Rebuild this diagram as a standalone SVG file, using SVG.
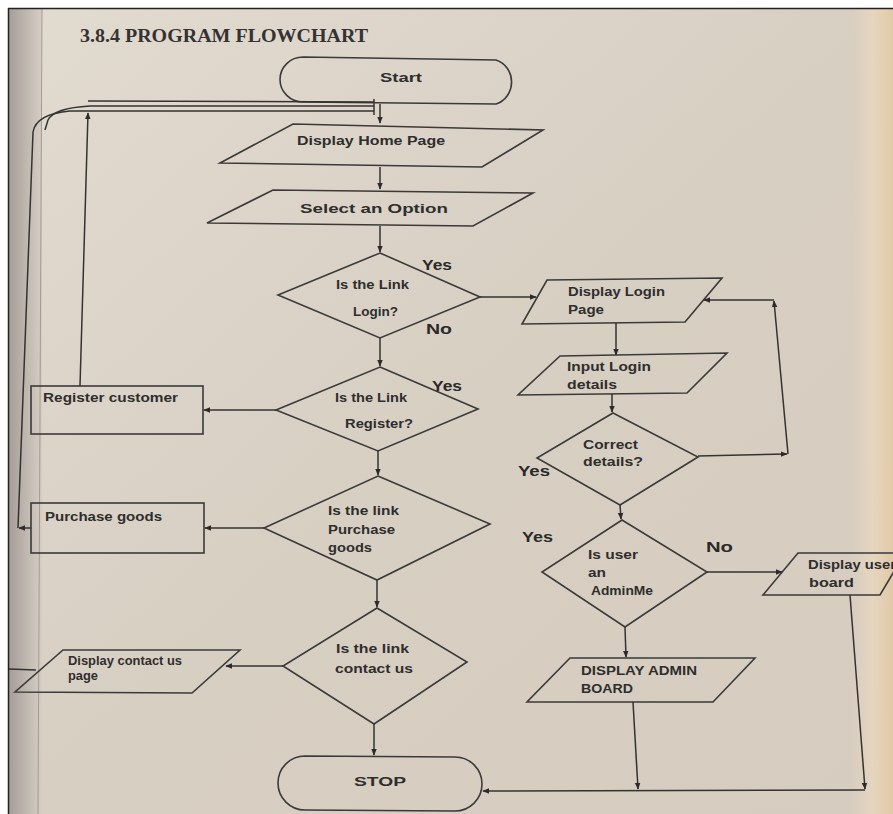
<svg xmlns="http://www.w3.org/2000/svg" width="893" height="814" viewBox="0 0 893 814">
<defs>
<linearGradient id="paper" x1="0" y1="0" x2="1" y2="1">
<stop offset="0" stop-color="#e2dbd0"/>
<stop offset="0.5" stop-color="#d8cfc3"/>
<stop offset="1" stop-color="#d6ccbf"/>
</linearGradient>
<linearGradient id="leftEdge" x1="0" y1="0" x2="1" y2="0">
<stop offset="0" stop-color="#a39d98"/>
<stop offset="0.6" stop-color="#c2bbb2"/>
<stop offset="1" stop-color="#d6cec3"/>
</linearGradient>
<linearGradient id="rightEdge" x1="0" y1="0" x2="1" y2="0">
<stop offset="0" stop-color="#d8cdbf"/>
<stop offset="0.5" stop-color="#ecd9bf"/>
<stop offset="1" stop-color="#e6c79d"/>
</linearGradient>
<marker id="ah" viewBox="0 0 10 10" refX="9" refY="5" markerWidth="7" markerHeight="7" orient="auto-start-reverse" markerUnits="userSpaceOnUse">
<path d="M0,1 L10,5 L0,9 Z" fill="#2b2b2b"/>
</marker>
<style>
.shape{fill:none;stroke:#3a3a3a;stroke-width:1.6}
.conn{fill:none;stroke:#333;stroke-width:1.5}
.t{font-family:"Liberation Sans",Arial,sans-serif;font-weight:bold;fill:#2e2e2e;font-size:12.5px}
.lbl{font-family:"Liberation Sans",Arial,sans-serif;font-weight:bold;fill:#2a2a2a;font-size:15px}
.title{font-family:"Liberation Serif","Times New Roman",serif;font-weight:bold;fill:#333;font-size:18px}
</style>
</defs>
<rect x="0" y="0" width="893" height="814" fill="#ffffff"/>
<rect x="8" y="8" width="885" height="806" fill="url(#paper)"/>
<rect x="8" y="8" width="34" height="806" fill="url(#leftEdge)"/>
<line x1="42" y1="8" x2="38" y2="814" stroke="#a29c96" stroke-width="1"/>
<rect x="852" y="8" width="41" height="806" fill="url(#rightEdge)" opacity="0.7"/>
<line x1="8" y1="8.5" x2="893" y2="8.5" stroke="#222" stroke-width="1.5"/>
<line x1="8.5" y1="8" x2="8.5" y2="814" stroke="#222" stroke-width="1.5"/>

<text class="title" x="80" y="42" textLength="288" lengthAdjust="spacingAndGlyphs">3.8.4 PROGRAM FLOWCHART</text>

<g id="start">
<path class="shape" d="M303,57 L496,60 A22,23 0 0 1 496,104 L303,102 A23,22.5 0 0 1 303,57 Z"/>
<text class="t" x="380" y="82" font-size="13" textLength="42" lengthAdjust="spacingAndGlyphs">Start</text>
</g>

<g id="home">
<polygon class="shape" points="293,124 543,130 482,167 220,163"/>
<text class="t" x="297" y="145" textLength="148" lengthAdjust="spacingAndGlyphs">Display Home Page</text>
</g>

<g id="select">
<polygon class="shape" points="273,190 533,193 473,226 207,223"/>
<text class="t" x="300" y="213" font-size="15" textLength="148" lengthAdjust="spacingAndGlyphs">Select an Option</text>
</g>

<g id="isLogin">
<polygon class="shape" points="380,253 480,297 380,338 278,295"/>
<text class="t" x="336" y="289" font-size="11" textLength="73" lengthAdjust="spacingAndGlyphs">Is the Link</text>
<text class="t" x="353" y="316" font-size="11" textLength="45" lengthAdjust="spacingAndGlyphs">Login?</text>
</g>

<g id="isRegister">
<polygon class="shape" points="380,367 478,409 378,451 276,410"/>
<text class="t" x="335" y="402" font-size="11.5" textLength="72" lengthAdjust="spacingAndGlyphs">Is the Link</text>
<text class="t" x="345" y="428" font-size="11.5" textLength="68" lengthAdjust="spacingAndGlyphs">Register?</text>
</g>

<g id="register">
<rect class="shape" x="31" y="386" width="172" height="48"/>
<text class="t" x="43" y="402" textLength="135" lengthAdjust="spacingAndGlyphs">Register customer</text>
</g>

<g id="isPurchase">
<polygon class="shape" points="378,476 490,524 377,580 264,528"/>
<text class="t" x="328" y="515" textLength="71" lengthAdjust="spacingAndGlyphs">Is the link</text>
<text class="t" x="328" y="534" textLength="67" lengthAdjust="spacingAndGlyphs">Purchase</text>
<text class="t" x="328" y="552" textLength="44" lengthAdjust="spacingAndGlyphs">goods</text>
</g>

<g id="purchase">
<rect class="shape" x="31" y="503" width="173" height="50"/>
<text class="t" x="45" y="521" textLength="117" lengthAdjust="spacingAndGlyphs">Purchase goods</text>
</g>

<g id="isContact">
<polygon class="shape" points="377,608 467,662 374,724 283,666"/>
<text class="t" x="336" y="653" font-size="13" textLength="73" lengthAdjust="spacingAndGlyphs">Is the link</text>
<text class="t" x="335" y="673" font-size="13" textLength="78" lengthAdjust="spacingAndGlyphs">contact us</text>
</g>

<g id="contact">
<polygon class="shape" points="63,650 240,650 192,693 15,692"/>
<text class="t" x="68" y="665" font-size="10" textLength="114" lengthAdjust="spacingAndGlyphs">Display contact us</text>
<text class="t" x="68" y="680" font-size="10" textLength="30" lengthAdjust="spacingAndGlyphs">page</text>
</g>

<g id="stop">
<path class="shape" d="M305,756 L455,757 A27,27 0 0 1 455,811 L305,810 A27,27 0 0 1 305,756 Z"/>
<text class="t" x="354" y="786" font-size="16" textLength="52" lengthAdjust="spacingAndGlyphs">STOP</text>
</g>

<g id="loginPage">
<polygon class="shape" points="547,280 722,278 685,322 522,324"/>
<text class="t" x="568" y="296" textLength="97" lengthAdjust="spacingAndGlyphs">Display Login</text>
<text class="t" x="568" y="314" textLength="36" lengthAdjust="spacingAndGlyphs">Page</text>
</g>

<g id="inputLogin">
<polygon class="shape" points="560,356 727,353 687,393 518,395"/>
<text class="t" x="567" y="371" textLength="84" lengthAdjust="spacingAndGlyphs">Input Login</text>
<text class="t" x="567" y="389" textLength="50" lengthAdjust="spacingAndGlyphs">details</text>
</g>

<g id="correct">
<polygon class="shape" points="613,413 698,457 620,505 537,458"/>
<text class="t" x="583" y="449" textLength="55" lengthAdjust="spacingAndGlyphs">Correct</text>
<text class="t" x="583" y="466" textLength="60" lengthAdjust="spacingAndGlyphs">details?</text>
</g>

<g id="isAdmin">
<polygon class="shape" points="622,520 707,572 625,627 542,572"/>
<text class="t" x="588" y="559" textLength="50" lengthAdjust="spacingAndGlyphs">Is user</text>
<text class="t" x="588" y="577" textLength="18" lengthAdjust="spacingAndGlyphs">an</text>
<text class="t" x="591" y="595" font-size="10" textLength="62" lengthAdjust="spacingAndGlyphs">AdminMe</text>
</g>

<g id="userBoard">
<polygon class="shape" points="798,553 905,553 880,595 763,595"/>
<text class="t" x="808" y="569" font-size="11.5" textLength="88" lengthAdjust="spacingAndGlyphs">Display user</text>
<text class="t" x="809" y="587" font-size="11.5" textLength="45" lengthAdjust="spacingAndGlyphs">board</text>
</g>

<g id="adminBoard">
<polygon class="shape" points="570,658 755,658 713,702 527,702"/>
<text class="t" x="581" y="675" textLength="116" lengthAdjust="spacingAndGlyphs">DISPLAY ADMIN</text>
<text class="t" x="581" y="693" textLength="52" lengthAdjust="spacingAndGlyphs">BOARD</text>
</g>

<g id="connectors">
<line class="conn" x1="380" y1="104" x2="380" y2="123" marker-end="url(#ah)"/>
<line class="conn" x1="380" y1="167" x2="380" y2="189" marker-end="url(#ah)"/>
<line class="conn" x1="380" y1="226" x2="380" y2="252" marker-end="url(#ah)"/>
<line class="conn" x1="380" y1="338" x2="380" y2="366" marker-end="url(#ah)"/>
<line class="conn" x1="378" y1="451" x2="378" y2="475" marker-end="url(#ah)"/>
<line class="conn" x1="377" y1="580" x2="377" y2="607" marker-end="url(#ah)"/>
<line class="conn" x1="374" y1="724" x2="374" y2="755" marker-end="url(#ah)"/>
<line class="conn" x1="276" y1="410" x2="204" y2="410" marker-end="url(#ah)"/>
<line class="conn" x1="264" y1="528" x2="205" y2="528" marker-end="url(#ah)"/>
<line class="conn" x1="283" y1="666" x2="226" y2="666" marker-end="url(#ah)"/>
<line class="conn" x1="36" y1="670" x2="9" y2="669"/>
<line class="conn" x1="31" y1="528" x2="19" y2="528" marker-end="url(#ah)"/>
<path class="conn" d="M18,528 L33,132 Q36,114 70,111 L374,111"/>
<path class="conn" d="M45,130 L48,120 Q54,108 90,106 L374,106"/>
<path class="conn" d="M80,386 L88,113" marker-end="url(#ah)"/>
<path class="conn" d="M88,101 L374,102"/>
<line class="conn" x1="374" y1="99" x2="374" y2="115" stroke-width="2.5"/>
<line class="conn" x1="480" y1="297" x2="536" y2="297" marker-end="url(#ah)"/>
<line class="conn" x1="616" y1="323" x2="616" y2="355" marker-end="url(#ah)"/>
<line class="conn" x1="612" y1="394" x2="612" y2="412" marker-end="url(#ah)"/>
<line class="conn" x1="698" y1="456" x2="787" y2="454" marker-end="url(#ah)"/>
<line class="conn" x1="788" y1="454" x2="774" y2="301" marker-end="url(#ah)"/>
<line class="conn" x1="774" y1="300" x2="704" y2="300" marker-end="url(#ah)"/>
<line class="conn" x1="620" y1="505" x2="621" y2="519" marker-end="url(#ah)"/>
<line class="conn" x1="707" y1="572" x2="782" y2="572" marker-end="url(#ah)"/>
<line class="conn" x1="625" y1="627" x2="626" y2="657" marker-end="url(#ah)"/>
<line class="conn" x1="633" y1="702" x2="638" y2="789" marker-end="url(#ah)"/>
<line class="conn" x1="850" y1="595" x2="865" y2="789" marker-end="url(#ah)"/>
<line class="conn" x1="865" y1="790" x2="483" y2="791" marker-end="url(#ah)"/>
</g>

<text class="lbl" x="422" y="270" textLength="30" lengthAdjust="spacingAndGlyphs">Yes</text>
<text class="lbl" x="426" y="334" textLength="26" lengthAdjust="spacingAndGlyphs">No</text>
<text class="lbl" x="432" y="391" textLength="30" lengthAdjust="spacingAndGlyphs">Yes</text>
<text class="lbl" x="518" y="476" textLength="32" lengthAdjust="spacingAndGlyphs">Yes</text>
<text class="lbl" x="522" y="542" textLength="31" lengthAdjust="spacingAndGlyphs">Yes</text>
<text class="lbl" x="706" y="552" textLength="27" lengthAdjust="spacingAndGlyphs">No</text>
</svg>
